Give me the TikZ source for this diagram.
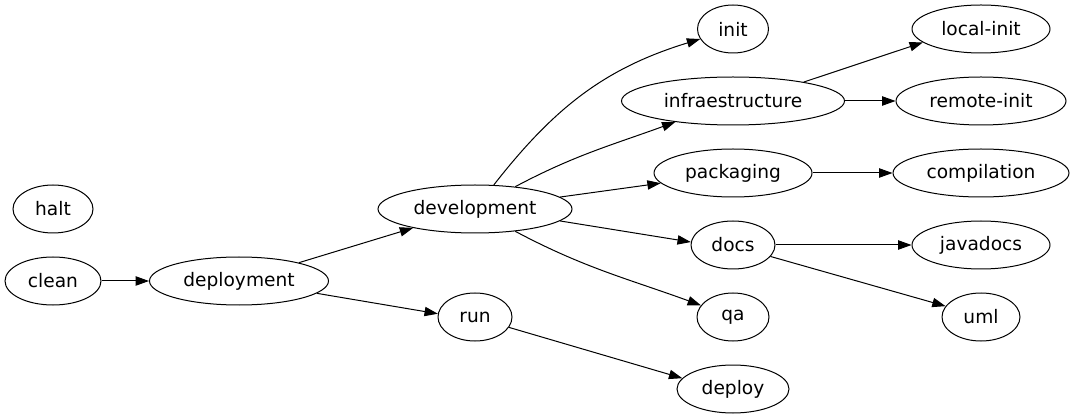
\documentclass[tikz,border=0pt]{standalone}
\usepackage{fontspec}
\setmainfont{DejaVu Sans}
\usetikzlibrary{shapes.geometric,arrows.meta}

\begin{document}
\begin{tikzpicture}[x=1pt, y=-1pt, font=\fontsize{18.6}{21}\selectfont]

% Set the page to the size of the drawing
\useasboundingbox (0,0) rectangle (1075,419);

% Define styles for tasks and dependencies
\tikzstyle{tarea} = [ellipse, draw, line width=1pt, inner sep=0pt, minimum height=48pt]
\tikzstyle{flecha} = [line width=1pt, -{Triangle[length=13.3pt, width=9.3pt]}]

% Column 1
\node[tarea, minimum width=80pt] (halt) at (53,209) {halt};
\node[tarea, minimum width=96pt] (clean) at (53,281) {clean};

% Column 2
\node[tarea, minimum width=179pt] (deployment) at (239,281) {deployment};

% Column 3
\node[tarea, minimum width=194pt] (development) at (475,209) {development};
\node[tarea, minimum width=74pt] (run) at (475,317) {run};

% Column 4
\node[tarea, minimum width=71pt] (init) at (733,29) {init};
\node[tarea, minimum width=223pt] (infraestructure) at (733,101) {infraestructure};
\node[tarea, minimum width=158pt] (packaging) at (733,173) {packaging};
\node[tarea, minimum width=84pt] (docs) at (733,245) {docs};
\node[tarea, minimum width=72pt] (qa) at (733,317) {qa};
\node[tarea, minimum width=112pt] (deploy) at (733,389) {deploy};

% Column 5
\node[tarea, minimum width=138pt] (localinit) at (981,29) {local-init};
\node[tarea, minimum width=170pt] (remoteinit) at (981,101) {remote-init};
\node[tarea, minimum width=176pt] (compilation) at (981,173) {compilation};
\node[tarea, minimum width=138pt] (javadocs) at (981,245) {javadocs};
\node[tarea, minimum width=78pt] (uml) at (981,317) {uml};

% Dependencies
\draw[flecha] (clean) -- (deployment);
\draw[flecha] (deployment.17) -- (development.197);
\draw[flecha] (deployment.-9) -- (run.175);
\draw[flecha] (run.-17) -- (deploy.168);
\draw[flecha] (development.52) to[out=52, in=197] (init);
\draw[flecha] (development.29) to[out=28, in=200] (infraestructure);
\draw[flecha] (development.8) -- (packaging.188);
\draw[flecha] (development.-8) -- (docs.176);
\draw[flecha] (development.-29) to[out=-28, in=160] (qa);
\draw[flecha] (infraestructure.15) -- (localinit.193);
\draw[flecha] (infraestructure) -- (remoteinit);
\draw[flecha] (packaging) -- (compilation);
\draw[flecha] (docs) -- (javadocs);
\draw[flecha] (docs.-17) -- (uml.163);

\end{tikzpicture}
\end{document}
